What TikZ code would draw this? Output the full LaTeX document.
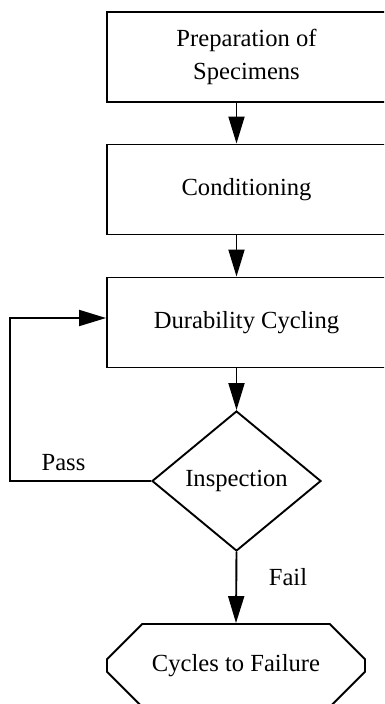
\documentclass[tikz,border=0pt]{standalone}
\usepackage{fontspec}
\setmainfont{Liberation Serif}
\usetikzlibrary{shapes.geometric,shapes.misc,arrows.meta}
\begin{document}
\begin{tikzpicture}[x=1pt,y=-1pt,
  every node/.style={font=\fontsize{24.6}{33.4}\selectfont},
  box/.style={draw,line width=1.9pt,minimum width=279pt,minimum height=90pt,inner sep=0pt,align=center},
  decision/.style={draw,diamond,line width=1.9pt,minimum width=169pt,minimum height=140pt,aspect=1.2,inner sep=0pt},
  term/.style={draw,chamfered rectangle,line width=1.9pt,minimum width=258pt,minimum height=83pt,
    chamfered rectangle xsep=25pt,chamfered rectangle ysep=24pt,inner sep=0pt},
  arr/.style={line width=1.9pt,-{Triangle[length=27pt,width=16pt]}},
  lbl/.style={inner sep=0pt}]
\useasboundingbox (0,0) rectangle (384,704);
\clip (0,0) rectangle (384,704);
\fill[white] (0,0) rectangle (384,704);
\node[box] (prep) at (246.5,57) {Preparation of\\Specimens};
\node[box] (cond) at (246.5,189.5) {Conditioning};
\node[box] (dur) at (246.5,322.5) {Durability Cycling};
\node[decision] (insp) at (236.5,481) {Inspection};
\node[term] (cyc) at (236,665.5) {Cycles to Failure};
\coordinate (corner) at (10,481);
\draw[arr] (prep.south -| insp.north) -- (cond.north -| insp.north);
\draw[arr] (cond.south -| insp.north) -- (dur.north -| insp.north);
\draw[arr] (dur.south -| insp.north) -- (insp.north);
\draw[arr] (insp.south) -- (cyc.north);
\draw[arr] (insp.west) -- (corner) |- ([yshift=4.5pt]dur.west);
\node[lbl] (pass) at (63.5,463) {Pass};
\node[lbl] (fail) at (288,577) {Fail};
\end{tikzpicture}
\end{document}
